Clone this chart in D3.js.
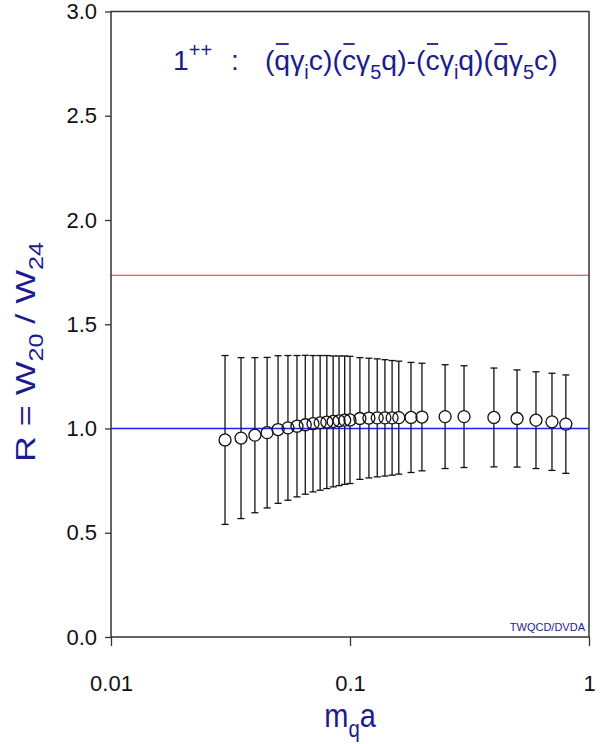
<!DOCTYPE html>
<html>
<head>
<meta charset="utf-8">
<script src="https://cdn.jsdelivr.net/npm/d3@7"></script>
<style>
  body { margin: 0; background: #fff; }
  svg { display: block; font-family: "Liberation Sans", Arial, sans-serif; }
</style>
</head>
<body>
<svg width="607" height="744"></svg>
<script>
// quark masses m_q a
let masses = [0.03, 0.035, 0.04, 0.045, 0.05, 0.055, 0.06, 0.065, 0.07, 0.075,
              0.08, 0.085, 0.09, 0.095, 0.1, 0.11, 0.12, 0.13, 0.14, 0.15,
              0.16, 0.18, 0.2, 0.25, 0.3, 0.4, 0.5, 0.6, 0.7, 0.8]
// ratio R and its error
let ratio = [0.945, 0.954, 0.968, 0.980, 0.995, 1.003, 1.011, 1.018, 1.023, 1.027,
             1.031, 1.034, 1.037, 1.040, 1.041, 1.048, 1.050, 1.051, 1.051, 1.051,
             1.052, 1.053, 1.055, 1.057, 1.057, 1.053, 1.048, 1.040, 1.032, 1.021]
let error = [0.405, 0.386, 0.372, 0.361, 0.354, 0.347, 0.339, 0.333, 0.327, 0.323,
             0.319, 0.314, 0.311, 0.308, 0.305, 0.292, 0.287, 0.283, 0.279, 0.275,
             0.271, 0.264, 0.258, 0.249, 0.244, 0.237, 0.233, 0.232, 0.233, 0.236]
// reference lines
let redLevel = 1.735
let blueLevel = 1.0

let xTicks = [0.01, 0.1, 1]
let xTickLabels = ['0.01', '0.1', '1']
let yTicks = [0, 0.5, 1, 1.5, 2, 2.5, 3]

let navy = '#1c1c8e'

let svg = d3.select('svg')
let margin = {left: 111, top: 11.5, right: 18, bottom: 107}
let width = svg.attr('width') - margin.left - margin.right
let height = svg.attr('height') - margin.top - margin.bottom

let scale = {
    x: d3.scaleLog().domain([0.01, 1]).range([0, width]),
    y: d3.scaleLinear().domain([0, 3]).range([height, 0])
}

let g = svg.append('g')
    .attr('transform', `translate(${margin.left}, ${margin.top})`)

// X axis
g.append('g')
    .attr('transform', `translate(0,${height})`)
    .call(d3.axisBottom(scale.x)
        .tickValues(xTicks)
        .tickFormat((d, i) => xTickLabels[i])
        .tickSize(9).tickSizeOuter(0).tickPadding(29))
// Y axis
g.append('g')
    .call(d3.axisLeft(scale.y)
        .tickValues(yTicks)
        .tickFormat(d3.format('.1f'))
        .tickSize(6).tickSizeOuter(0).tickPadding(8))

g.selectAll('.tick text').attr('font-size', 22).attr('fill', '#111').attr('font-family', null)
g.selectAll('.tick line').attr('stroke', '#333').attr('stroke-width', 1.3)
g.selectAll('.domain').remove()

// reference lines
g.append('line')
    .attr('x1', 0).attr('x2', width)
    .attr('y1', scale.y(redLevel)).attr('y2', scale.y(redLevel))
    .attr('stroke', '#ff2020').attr('stroke-width', 1.2)
g.append('line')
    .attr('x1', 0).attr('x2', width)
    .attr('y1', scale.y(blueLevel)).attr('y2', scale.y(blueLevel))
    .attr('stroke', '#2020ff').attr('stroke-width', 1.4)

// frame
g.append('rect')
    .attr('width', width).attr('height', height)
    .attr('fill', 'none').attr('stroke', '#333').attr('stroke-width', 1.5)

let data = masses.map((m, i) => ({m: m, r: ratio[i], e: error[i]}))
let r = 6
let cap = 3.5

let pts = g.append('g').attr('stroke', '#111').attr('stroke-width', 1.3).attr('fill', 'none')
pts.selectAll('.up').data(data).join('line')
    .attr('x1', d => scale.x(d.m)).attr('x2', d => scale.x(d.m))
    .attr('y1', d => scale.y(d.r + d.e)).attr('y2', d => scale.y(d.r) - r)
pts.selectAll('.dn').data(data).join('line')
    .attr('x1', d => scale.x(d.m)).attr('x2', d => scale.x(d.m))
    .attr('y1', d => scale.y(d.r) + r).attr('y2', d => scale.y(d.r - d.e))
pts.selectAll('.capt').data(data).join('line')
    .attr('x1', d => scale.x(d.m) - cap).attr('x2', d => scale.x(d.m) + cap)
    .attr('y1', d => scale.y(d.r + d.e)).attr('y2', d => scale.y(d.r + d.e))
pts.selectAll('.capb').data(data).join('line')
    .attr('x1', d => scale.x(d.m) - cap).attr('x2', d => scale.x(d.m) + cap)
    .attr('y1', d => scale.y(d.r - d.e)).attr('y2', d => scale.y(d.r - d.e))
pts.selectAll('circle').data(data).join('circle')
    .attr('cx', d => scale.x(d.m)).attr('cy', d => scale.y(d.r)).attr('r', r)

// small credit
g.append('text')
    .attr('x', width - 4).attr('y', height - 6)
    .attr('text-anchor', 'end').attr('font-size', 11).attr('fill', navy)
    .text('TWQCD/DVDA')

// rich text helper: parts with sub/sup/bar
function richText(sel, parts) {
    let shift = 0
    let fs = parseFloat(sel.attr('font-size'))
    parts.forEach(p => {
        let target = p.sub ? 0.3 : p.sup ? -0.45 : 0
        let ts = sel.append('tspan').text(p.t)
        ts.attr('dy', (target - shift) * fs)
        if (p.dx) ts.attr('dx', p.dx)
        if (p.sub || p.sup) ts.attr('font-size', fs * 0.7)
        shift = target
        if (p.bar) ts.classed('bar', true)
    })
}

// title
let title = svg.append('text')
    .attr('x', 173).attr('y', 70)
    .attr('font-size', 28.4).attr('fill', navy)
richText(title, [
    {t: '1'}, {t: '++', sup: true}, {t: ':', dx: 19}, {t: '(', dx: 26},
    {t: 'q', bar: true}, {t: 'γ'}, {t: 'i', sub: true}, {t: 'c)('},
    {t: 'c', bar: true}, {t: 'γ'}, {t: '5', sub: true}, {t: 'q)-('},
    {t: 'c', bar: true}, {t: 'γ'}, {t: 'i', sub: true}, {t: 'q)('},
    {t: 'q', bar: true}, {t: 'γ'}, {t: '5', sub: true}, {t: 'c)'}
])
title.selectAll('tspan.bar').each(function() {
    let b = this.getBBox()
    svg.append('line')
        .attr('x1', b.x + 1.5).attr('x2', b.x + b.width - 1.5)
        .attr('y1', 70 - 26).attr('y2', 70 - 26)
        .attr('stroke', navy).attr('stroke-width', 1.8)
})

// x title
let xt = svg.append('text')
    .attr('transform', `translate(${margin.left + scale.x(0.1)}, 727) scale(1, 1.15)`)
    .attr('text-anchor', 'middle').attr('font-size', 29).attr('fill', navy)
richText(xt, [{t: 'm'}, {t: 'q', sub: true}, {t: 'a'}])

// y title
let yt = svg.append('text')
    .attr('transform', 'translate(35, 352) rotate(-90) scale(1.28, 1)')
    .attr('text-anchor', 'middle').attr('font-size', 28).attr('fill', navy)
richText(yt, [{t: 'R = W'}, {t: '20', sub: true}, {t: ' / W'}, {t: '24', sub: true}])
</script>
</body>
</html>
